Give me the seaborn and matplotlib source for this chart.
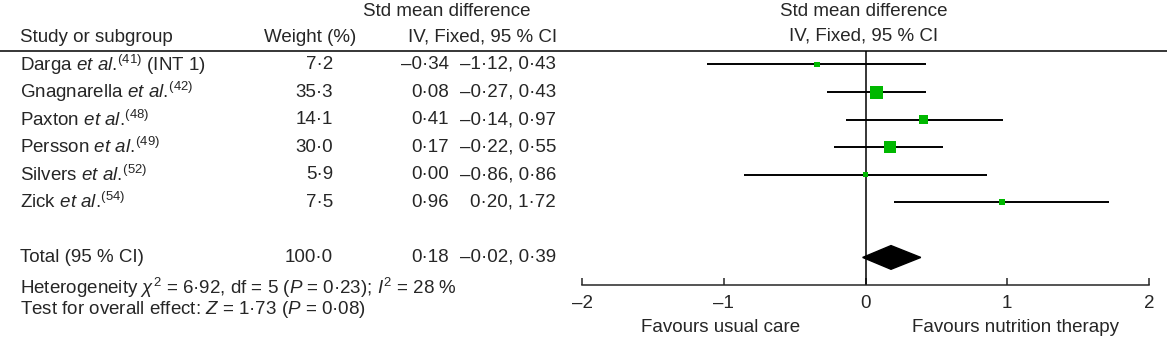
import numpy as np
import matplotlib
matplotlib.use("Agg")
import matplotlib.pyplot as plt
import matplotlib.transforms as mtransforms
from matplotlib.lines import Line2D
import seaborn as sns

# Data
studies = [
    r"Darga $\mathit{et\ al.\!}^{(41)}$ (INT 1)",
    r"Gnagnarella $\mathit{et\ al.\!}^{(42)}$",
    r"Paxton $\mathit{et\ al.\!}^{(48)}$",
    r"Persson $\mathit{et\ al.\!}^{(49)}$",
    r"Silvers $\mathit{et\ al.\!}^{(52)}$",
    r"Zick $\mathit{et\ al.\!}^{(54)}$",
]
weights = [7.2, 35.3, 14.1, 30.0, 5.9, 7.5]
smd = [-0.34, 0.08, 0.41, 0.17, 0.00, 0.96]
ci_low = [-1.12, -0.27, -0.14, -0.22, -0.86, 0.20]
ci_high = [0.43, 0.43, 0.97, 0.55, 0.86, 1.72]
total_weight = 100.0
total_smd = 0.18
total_low = -0.02
total_high = 0.39
x_ticks = [-2, -1, 0, 1, 2]


def fmt(v, nd=2):
    return f"{v:.{nd}f}".replace("-", "–").replace(".", "·")


sns.set_style("white")
plt.rcParams["font.family"] = ["Liberation Sans", "DejaVu Sans"]
plt.rcParams["mathtext.fontset"] = "custom"
plt.rcParams["mathtext.rm"] = "Liberation Sans"
plt.rcParams["mathtext.it"] = "Liberation Sans:italic"
plt.rcParams["mathtext.default"] = "regular"

W, H = 1167, 338
fs = 13.5
fig = plt.figure(figsize=(W / 100, H / 100), dpi=100)
ax = fig.add_axes([582 / W, 1 - 285 / H, (1149 - 582) / W, (285 - 50.7) / H])

rows = np.arange(1, len(studies) + 1)
total_row = len(studies) + 2

# CI lines and weighted squares
ax.hlines(rows, ci_low, ci_high, color="black", lw=1.4, zorder=2)
sns.scatterplot(x=smd, y=rows, size=weights, sizes=(2.5 * min(weights), 2.5 * max(weights)),
                marker="s", color="#00b800", linewidth=0, legend=False, ax=ax, zorder=3)

# pooled diamond
h = 0.43
ax.fill([total_low, total_smd, total_high, total_smd],
        [total_row, total_row - h, total_row, total_row + h], color="black", zorder=3)

ax.axvline(0, color="black", lw=1.1, zorder=1)
ax.set_xlim(-2, 2)
ax.set_ylim(9.0, 0.5)
ax.set_xticks(x_ticks)
ax.set_xticklabels([str(t).replace("-", "–") for t in x_ticks])
ax.set_yticks([])
ax.tick_params(axis="x", direction="in", length=5, width=1.1, labelsize=fs, pad=7, bottom=True)
sns.despine(ax=ax, left=True)
ax.spines["bottom"].set_linewidth(1.1)
ax.patch.set_alpha(0)

# header line across the whole figure
fig.add_artist(Line2D([0, 1], [1 - 50.7 / H] * 2, transform=fig.transFigure, color="black", lw=1.1))

# headers
fig.text(447 / W, 1 - 12 / H, "Std mean difference", ha="center", va="center", fontsize=fs)
fig.text(20 / W, 1 - 37 / H, "Study or subgroup", ha="left", va="center", fontsize=fs)
fig.text(356 / W, 1 - 37 / H, "Weight (%)", ha="right", va="center", fontsize=fs)
fig.text(557 / W, 1 - 37 / H, "IV, Fixed, 95 % CI", ha="right", va="center", fontsize=fs)
fig.text(864 / W, 1 - 12 / H, "Std mean difference", ha="center", va="center", fontsize=fs)
fig.text(864 / W, 1 - 36 / H, "IV, Fixed, 95 % CI", ha="center", va="center", fontsize=fs)

# table rows
trans = mtransforms.blended_transform_factory(fig.transFigure, ax.transData)
for r, name, w, e, lo, hi in zip(rows, studies, weights, smd, ci_low, ci_high):
    ax.text(20 / W, r, name, transform=trans, ha="left", va="center", fontsize=fs)
    ax.text(333 / W, r, fmt(w, 1), transform=trans, ha="right", va="center", fontsize=fs)
    ax.text(449 / W, r, fmt(e), transform=trans, ha="right", va="center", fontsize=fs)
    ax.text(556 / W, r, f"{fmt(lo)}, {fmt(hi)}", transform=trans, ha="right", va="center", fontsize=fs)

ax.text(20 / W, total_row, "Total (95 % CI)", transform=trans, ha="left", va="center", fontsize=fs)
ax.text(333 / W, total_row, fmt(total_weight, 1), transform=trans, ha="right", va="center", fontsize=fs)
ax.text(449 / W, total_row, fmt(total_smd), transform=trans, ha="right", va="center", fontsize=fs)
ax.text(556 / W, total_row, f"{fmt(total_low)}, {fmt(total_high)}", transform=trans,
        ha="right", va="center", fontsize=fs)

fig.text(20 / W, 1 - 288 / H,
         r"Heterogeneity $\mathit{\chi}^2$ = 6·92, df = 5 ($\mathit{P}$ = 0·23); $\mathit{I}^2$ = 28 %",
         ha="left", va="center", fontsize=fs)
fig.text(20 / W, 1 - 309 / H, r"Test for overall effect: $\mathit{Z}$ = 1·73 ($\mathit{P}$ = 0·08)",
         ha="left", va="center", fontsize=fs)

fig.text(721 / W, 1 - 327 / H, "Favours usual care", ha="center", va="center", fontsize=fs)
fig.text(1015 / W, 1 - 327 / H, "Favours nutrition therapy", ha="center", va="center", fontsize=fs)

fig.savefig("out.png", dpi=100)
